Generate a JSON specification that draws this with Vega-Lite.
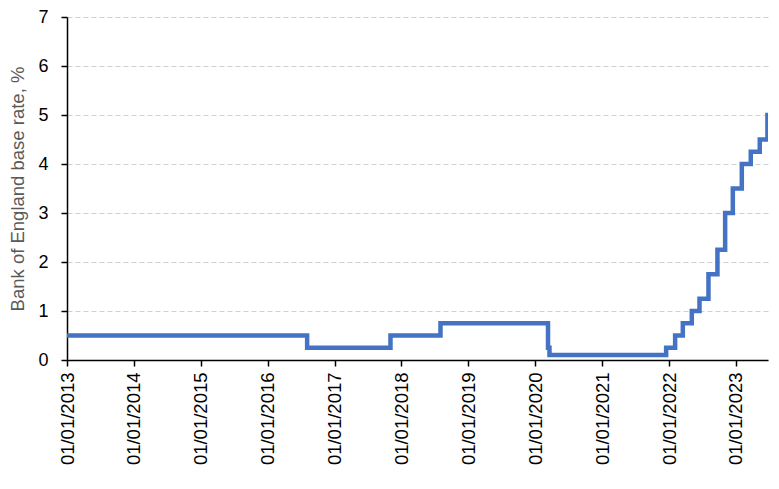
{
  "$schema": "https://vega.github.io/schema/vega-lite/v6.json",
  "width": 701,
  "height": 343,
  "autosize": {"type": "none"},
  "padding": {"left": 67, "top": 17, "right": 11, "bottom": 129},
  "background": "white",
  "config": {
    "view": {"stroke": null},
    "font": "Liberation Sans"
  },
  "data": {
    "values": [
      {"date": "2013-01-01", "rate": 0.5},
      {"date": "2016-08-04", "rate": 0.25},
      {"date": "2017-11-02", "rate": 0.5},
      {"date": "2018-08-02", "rate": 0.75},
      {"date": "2020-03-11", "rate": 0.25},
      {"date": "2020-03-19", "rate": 0.1},
      {"date": "2021-12-16", "rate": 0.25},
      {"date": "2022-02-03", "rate": 0.5},
      {"date": "2022-03-17", "rate": 0.75},
      {"date": "2022-05-05", "rate": 1.0},
      {"date": "2022-06-16", "rate": 1.25},
      {"date": "2022-08-04", "rate": 1.75},
      {"date": "2022-09-22", "rate": 2.25},
      {"date": "2022-11-03", "rate": 3.0},
      {"date": "2022-12-15", "rate": 3.5},
      {"date": "2023-02-02", "rate": 4.0},
      {"date": "2023-03-23", "rate": 4.25},
      {"date": "2023-05-11", "rate": 4.5},
      {"date": "2023-06-22", "rate": 5.0},
      {"date": "2023-06-25", "rate": 5.0}
    ]
  },
  "mark": {"type": "line", "interpolate": "step-after", "color": "#4472C4", "strokeWidth": 4.5, "clip": true},
  "encoding": {
    "x": {
      "field": "date",
      "type": "temporal",
      "scale": {"type": "utc", "domain": [{"year": 2013, "month": 1, "date": 1, "utc": true}, {"year": 2023, "month": 6, "date": 25, "utc": true}]},
      "axis": {
        "title": null,
        "values": [
          {"year": 2013, "month": 1, "date": 1, "utc": true},
          {"year": 2014, "month": 1, "date": 1, "utc": true},
          {"year": 2015, "month": 1, "date": 1, "utc": true},
          {"year": 2016, "month": 1, "date": 1, "utc": true},
          {"year": 2017, "month": 1, "date": 1, "utc": true},
          {"year": 2018, "month": 1, "date": 1, "utc": true},
          {"year": 2019, "month": 1, "date": 1, "utc": true},
          {"year": 2020, "month": 1, "date": 1, "utc": true},
          {"year": 2021, "month": 1, "date": 1, "utc": true},
          {"year": 2022, "month": 1, "date": 1, "utc": true},
          {"year": 2023, "month": 1, "date": 1, "utc": true}
        ],
        "format": "%d/%m/%Y",
        "labelAngle": 270,
        "labelAlign": "right",
        "labelBaseline": "middle",
        "labelFontSize": 18.5,
        "labelColor": "#000000",
        "labelPadding": 6,
        "labelOverlap": false,
        "labelFlush": false,
        "domainColor": "#000000",
        "domainWidth": 1.5,
        "tickColor": "#000000",
        "tickWidth": 1.5,
        "tickSize": 6,
        "grid": false
      }
    },
    "y": {
      "field": "rate",
      "type": "quantitative",
      "scale": {"domain": [0, 7], "nice": false},
      "axis": {
        "title": "Bank of England base rate, %",
        "titleFontSize": 18.5,
        "titleFontWeight": "normal",
        "titleColor": "#595959",
        "titlePadding": 10,
        "values": [0, 1, 2, 3, 4, 5, 6, 7],
        "labelFontSize": 18,
        "labelColor": "#000000",
        "labelPadding": 13,
        "domainColor": "#000000",
        "domainWidth": 1.5,
        "tickColor": "#000000",
        "tickWidth": 1.5,
        "tickSize": 6,
        "grid": true,
        "gridColor": "#d0d0d0",
        "gridDash": [5, 3],
        "gridWidth": 1
      }
    }
  }
}
